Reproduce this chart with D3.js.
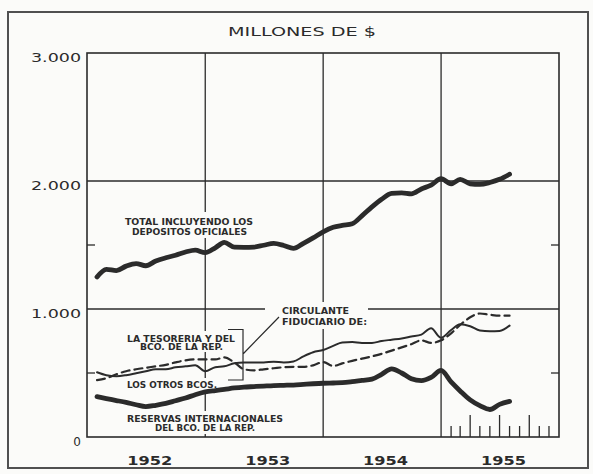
<!DOCTYPE html>
<html>
<head>
<meta charset="utf-8">
<script src="https://cdnjs.cloudflare.com/ajax/libs/d3/7.8.5/d3.min.js"></script>
<style>
body { margin: 0; background: #fbfbf9; }
svg { display: block; }
text { font-family: "DejaVu Sans", sans-serif; fill: #2b2b2b; }
</style>
</head>
<body>
<div id="chart"></div>
<script>

// fin de mes: ene 1952 .. jul 1955
var months = d3.timeMonth.range(new Date(1952, 1, 1), new Date(1955, 8, 1));

var total = [1250,1310,1300,1335,1355,1338,1375,1400,1420,1445,1460,1440,
             1478,1520,1483,1482,1484,1498,1512,1496,1473,1513,1556,1603,
             1638,1653,1666,1728,1798,1858,1903,1908,1900,1938,1968,2018,
             1978,2013,1978,1973,1988,2013,2053];

var tesoreria = [506,483,475,483,498,514,529,529,545,552,560,514,
                 545,552,576,583,583,583,587,583,590,630,662,680,
                 712,738,742,735,735,750,760,770,785,800,849,775,
                 836,880,865,832,826,828,870];

var otrosBcos = [444,459,490,514,529,541,552,564,583,599,606,606,
                 606,622,583,529,521,529,537,545,548,548,560,585,
                 555,575,595,612,630,650,675,700,725,755,735,755,
                 810,875,935,965,955,948,948];

var reservas = [315,300,285,270,252,238,248,262,283,305,330,352,
                363,372,383,390,394,398,402,404,406,411,416,420,
                422,424,432,442,452,490,532,500,455,440,465,520,
                430,360,290,245,215,255,278];

var yTicks = [0, 1000, 2000, 3000];
var yTickLabels = ["0", "1.000", "2.000", "3.000"];
var yMinor = [500, 1500];
var years = [1952, 1953, 1954, 1955];

var ink = "#2b2b2b";

var svg = d3.select("#chart").append("svg")
    .attr("width", 593)
    .attr("height", 474);

var x = d3.scaleTime()
    .domain([new Date(1952, 0, 1), new Date(1956, 0, 1)])
    .range([87, 559]);

var y = d3.scaleLinear()
    .domain([0, 3000])
    .range([437, 53]);

// marco exterior
svg.append("rect")
    .attr("x", 8).attr("y", 12)
    .attr("width", 580).attr("height", 456)
    .attr("fill", "none")
    .attr("stroke", "#505050")
    .attr("stroke-width", 2);

// titulo
svg.append("text")
    .attr("x", 228).attr("y", 36)
    .attr("textLength", 148)
    .attr("lengthAdjust", "spacingAndGlyphs")
    .style("font-size", "12.5px")
    .text("MILLONES DE $");

// grid vertical
svg.selectAll(".vgrid")
    .data(years.slice(1))
  .enter().append("line")
    .attr("class", "vgrid")
    .attr("x1", function(d) { return x(new Date(d, 0, 1)); })
    .attr("x2", function(d) { return x(new Date(d, 0, 1)); })
    .attr("y1", y(3000)).attr("y2", y(0))
    .attr("stroke", ink).attr("stroke-width", 1.3);

// grid horizontal
svg.selectAll(".hgrid")
    .data([1000, 2000])
  .enter().append("line")
    .attr("class", "hgrid")
    .attr("x1", x.range()[0]).attr("x2", x.range()[1])
    .attr("y1", function(d) { return y(d); })
    .attr("y2", function(d) { return y(d); })
    .attr("stroke", ink).attr("stroke-width", 1.3);

// marquitas de 500
[x.range()[0], x.range()[1]].forEach(function(edge, i) {
  svg.selectAll(".minor" + i)
      .data(yMinor)
    .enter().append("line")
      .attr("x1", edge).attr("x2", i == 0 ? edge + 8 : edge - 8)
      .attr("y1", function(d) { return y(d); })
      .attr("y2", function(d) { return y(d); })
      .attr("stroke", ink).attr("stroke-width", 1.3);
});

// marquitas mensuales 1955
var ticks55 = d3.timeMonth.range(new Date(1955, 1, 1), new Date(1955, 11, 2));
svg.selectAll(".mtick")
    .data(ticks55)
  .enter().append("line")
    .attr("class", "mtick")
    .attr("x1", function(d) { return x(d); })
    .attr("x2", function(d) { return x(d); })
    .attr("y1", y(0))
    .attr("y2", function(d) { return d.getMonth() % 3 == 0 ? y(0) - 22 : y(0) - 11; })
    .attr("stroke", ink).attr("stroke-width", 1.3);

// tapas blancas detras de los rotulos
var knock = [[122, 212, 134, 26], [123, 331, 115, 21], [123, 378, 97, 12],
             [123, 411, 164, 23], [265, 302, 103, 27]];
svg.selectAll(".knock")
    .data(knock)
  .enter().append("rect")
    .attr("x", function(d) { return d[0]; })
    .attr("y", function(d) { return d[1]; })
    .attr("width", function(d) { return d[2]; })
    .attr("height", function(d) { return d[3]; })
    .attr("fill", "#fbfbf9");

// borde del grafico
svg.append("rect")
    .attr("x", x.range()[0]).attr("y", y(3000))
    .attr("width", x.range()[1] - x.range()[0])
    .attr("height", y(0) - y(3000))
    .attr("fill", "none")
    .attr("stroke", ink).attr("stroke-width", 1.6);

// ejes
var yAxis = d3.axisLeft(y)
    .tickValues(yTicks)
    .tickSize(0)
    .tickPadding(6)
    .tickFormat(function(d, i) { return yTickLabels[i]; });

var gy = svg.append("g")
    .attr("transform", "translate(" + x.range()[0] + ",0)")
    .call(yAxis);
gy.select(".domain").remove();
gy.selectAll("text")
    .attr("dy", "0.7em")
    .attr("fill", ink)
    .style("font-size", "12px")
    .style("font-family", "'DejaVu Sans', sans-serif")
    .attr("textLength", function(d) { return d == 0 ? null : 50; })
    .attr("lengthAdjust", "spacingAndGlyphs");

svg.selectAll(".year")
    .data(years)
  .enter().append("text")
    .attr("class", "year")
    .attr("x", function(d) { return x(new Date(d, 6, 1)) + 4 - 22.5; })
    .attr("y", 465)
    .attr("textLength", 45)
    .attr("lengthAdjust", "spacingAndGlyphs")
    .style("font-size", "13px")
    .style("font-weight", "bold")
    .text(function(d) { return d; });

// series
var line = d3.line()
    .x(function(d, i) { return x(months[i]); })
    .y(function(d) { return y(d); })
    .curve(d3.curveMonotoneX);

var series = [
  {values: total, width: 4.8, dash: null},
  {values: reservas, width: 4.8, dash: null},
  {values: tesoreria, width: 2, dash: null},
  {values: otrosBcos, width: 2.2, dash: "8,5"}
];

svg.selectAll(".serie")
    .data(series)
  .enter().append("path")
    .attr("class", "serie")
    .attr("d", function(d) { return line(d.values); })
    .attr("fill", "none")
    .attr("stroke", ink)
    .attr("stroke-width", function(d) { return d.width; })
    .attr("stroke-dasharray", function(d) { return d.dash; })
    .attr("stroke-linecap", "round")
    .attr("stroke-linejoin", "round");

// rotulos
var labels = [
  ["TOTAL INCLUYENDO LOS", 125, 225, 128],
  ["DEPOSITOS OFICIALES", 132, 235, 115],
  ["CIRCULANTE", 282, 314, 67],
  ["FIDUCIARIO DE:", 282, 325, 85],
  ["LA TESORERIA Y DEL", 127, 341.5, 108],
  ["BCO. DE LA REP.", 140, 350, 83],
  ["LOS OTROS BCOS.", 127, 388, 90],
  ["RESERVAS INTERNACIONALES", 127, 421.5, 156],
  ["DEL BCO. DE LA REP.", 155, 431, 100]
];

svg.selectAll(".lbl")
    .data(labels)
  .enter().append("text")
    .attr("class", "lbl")
    .attr("x", function(d) { return d[1]; })
    .attr("y", function(d) { return d[2]; })
    .attr("textLength", function(d) { return d[3]; })
    .attr("lengthAdjust", "spacingAndGlyphs")
    .style("font-size", "8.5px")
    .style("font-weight", "bold")
    .text(function(d) { return d[0]; });

// llave
svg.append("path")
    .attr("d", "M228,329.5H243V380H228M243,354L279,317")
    .attr("fill", "none")
    .attr("stroke", ink)
    .attr("stroke-width", 1.2);

</script>
</body>
</html>
